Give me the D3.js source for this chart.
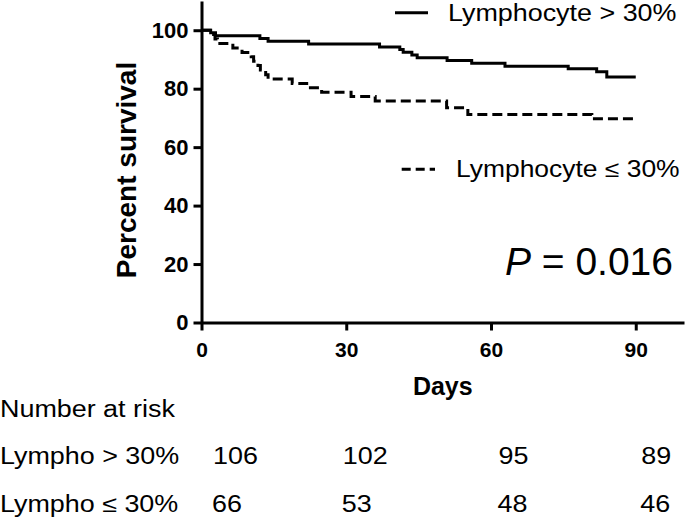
<!DOCTYPE html>
<html>
<head>
<meta charset="utf-8">
<script src="https://cdn.jsdelivr.net/npm/d3@7"></script>
<style>
  body { margin: 0; background: #fff; }
  svg { display: block; font-family: "Liberation Sans", Arial, Helvetica, sans-serif; }
  .axis path, .axis line { stroke: #000; stroke-width: 3; }
  .axis text { fill: #000; font-weight: bold; }
</style>
</head>
<body>
<svg id="chart" width="685" height="519"></svg>
<script>
// Kaplan-Meier curves
var hiDays = [0, 1.9, 2.9, 12.1, 13.8, 22.2, 36.9, 41.1, 41.8, 43.6, 44.7, 50.9, 56.0, 62.9, 76.0, 81.9, 84.0, 90];
var hiSurv = [100, 99.1, 98.1, 97.2, 96.2, 95.3, 94.3, 93.4, 92.5, 91.5, 90.6, 89.6, 88.7, 87.7, 86.8, 85.8, 84.0, 84.0];

var loDays = [0, 1.8, 2.8, 3.3, 6.5, 8.4, 10.3, 10.8, 11.7, 12.2, 13.3, 13.8, 18.8, 21.8, 24.9, 31.0, 36.0, 50.8, 55.2, 80.9, 90];
var loSurv = [100, 98.5, 97.0, 95.5, 93.9, 92.4, 90.9, 89.4, 87.9, 86.4, 84.8, 83.3, 81.8, 80.3, 78.8, 77.3, 75.8, 73.5, 71.2, 69.7, 69.7];

var xTicks = [0, 30, 60, 90];
var yTicks = [0, 20, 40, 60, 80, 100];

var groupLabels = ["Lymphocyte > 30%", "Lymphocyte \u2264 30%"];
var riskLabels = ["Lympho > 30%", "Lympho \u2264 30%"];
var riskHi = [106, 102, 95, 89];
var riskLo = [66, 53, 48, 46];

var svg = d3.select("#chart");

var x = d3.scaleLinear().domain([0, 100]).range([201.5, 684]);
var y = d3.scaleLinear().domain([0, 110]).range([322.5, 1]);

// text that is a bit wider than the font, like the original
function label(parent, px, py, str, size, sx, anchor, weight) {
  return parent.append("text")
    .attr("transform", "translate(" + px + "," + py + ") scale(" + sx + ",1)")
    .attr("text-anchor", anchor)
    .style("font-size", size + "px")
    .style("font-weight", weight || "normal")
    .text(str);
}

// axes
var gx = svg.append("g").attr("class", "axis")
  .attr("transform", "translate(0," + y(0) + ")")
  .call(d3.axisBottom(x).tickValues(xTicks).tickSize(8).tickSizeOuter(0).tickPadding(12));
gx.selectAll("text").style("font-size", "21px");

var gy = svg.append("g").attr("class", "axis")
  .attr("transform", "translate(" + x(0) + ",0)")
  .call(d3.axisLeft(y).tickValues(yTicks).tickSize(8).tickSizeOuter(0).tickPadding(5));
gy.selectAll("text").style("font-size", "22px");

svg.append("text")
  .attr("transform", "translate(136,170) rotate(-90)")
  .attr("text-anchor", "middle")
  .style("font-size", "28px").style("font-weight", "bold")
  .text("Percent survival");

label(svg, (x.range()[0] + x.range()[1]) / 2, 395, "Days", 25, 1, "middle", "bold");

// curves
var line = d3.line()
  .x(function (d) { return x(d[0]); })
  .y(function (d) { return y(d[1]); })
  .curve(d3.curveStepAfter);

svg.append("path")
  .datum(d3.zip(hiDays, hiSurv))
  .attr("d", line)
  .attr("fill", "none").attr("stroke", "#000").attr("stroke-width", 3);

svg.append("path")
  .datum(d3.zip(loDays, loSurv))
  .attr("d", line)
  .attr("fill", "none").attr("stroke", "#000").attr("stroke-width", 3)
  .attr("stroke-dasharray", "10,5");

// legend
svg.append("line").attr("x1", 395).attr("x2", 428).attr("y1", 12.7).attr("y2", 12.7)
  .attr("stroke", "#000").attr("stroke-width", 3);
label(svg, 448, 20.7, groupLabels[0], 23, 1.17, "start");

svg.append("line").attr("x1", 401.7).attr("x2", 435).attr("y1", 169.3).attr("y2", 169.3)
  .attr("stroke", "#000").attr("stroke-width", 3).attr("stroke-dasharray", "9,5");
label(svg, 456, 176.7, groupLabels[1], 23, 1.15, "start");

// p value
var pv = svg.append("text")
  .attr("x", 673).attr("y", 275)
  .attr("text-anchor", "end")
  .style("font-size", "39px");
pv.append("tspan").style("font-style", "italic").text("P");
pv.append("tspan").text(" = 0.016");

// number at risk table
var colOffsets = [11.5, -3.5, 7.5, 5.5];
label(svg, 0, 417, "Number at risk", 23, 1.17, "start");
label(svg, 0, 463.5, riskLabels[0], 23, 1.17, "start");
label(svg, 0, 511.5, riskLabels[1], 23, 1.17, "start");
xTicks.forEach(function (d, i) {
  label(svg, x(d) + colOffsets[i], 463.5, riskHi[i], 23, 1.17, "start");
  label(svg, x(d) + colOffsets[i] - 1, 511.5, riskLo[i], 23, 1.17, "start");
});
</script>
</body>
</html>
